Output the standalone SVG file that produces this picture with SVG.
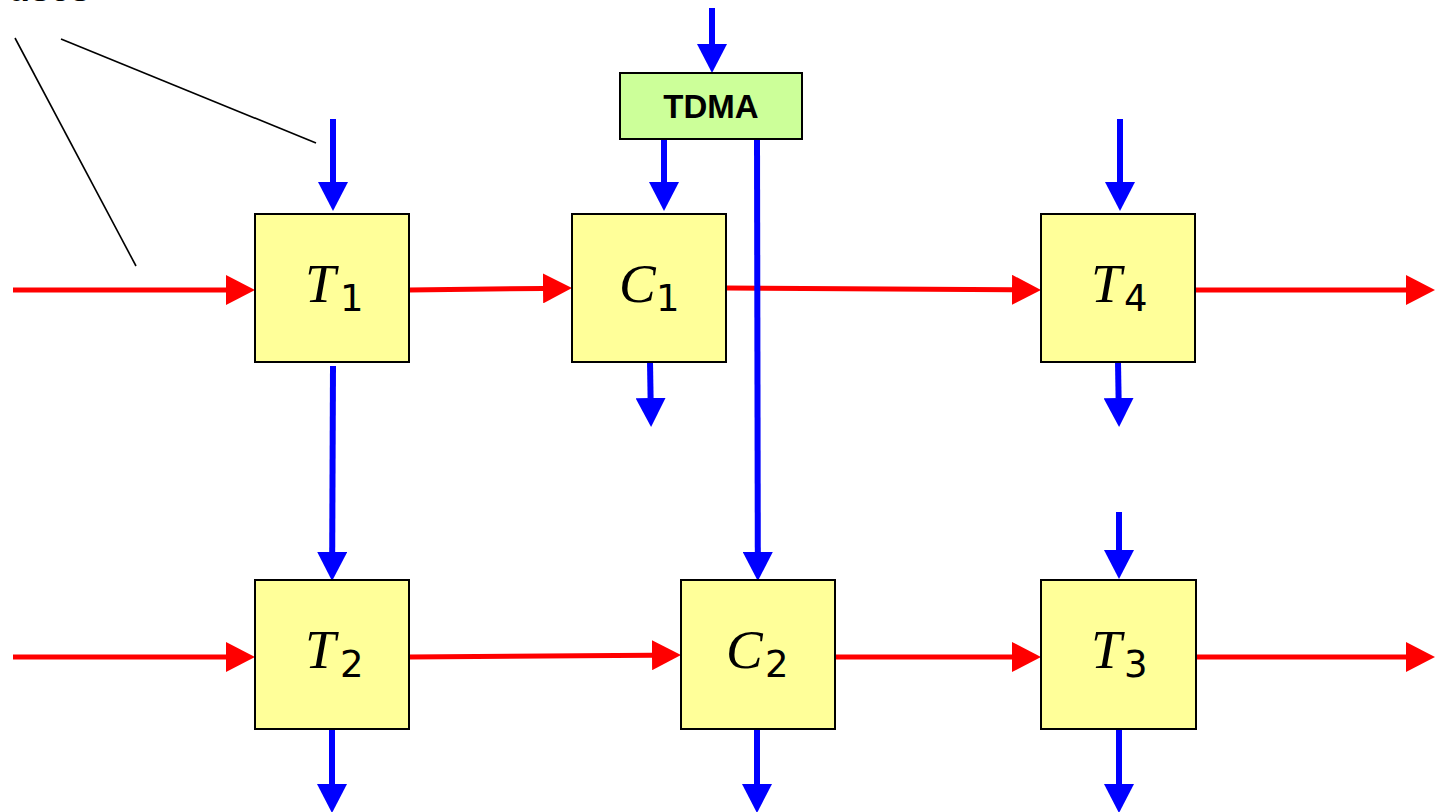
<svg xmlns="http://www.w3.org/2000/svg" width="1435" height="812" viewBox="0 0 1435 812">
<style>
.box{fill:#ffff99;stroke:#000;stroke-width:2}
.tdma{fill:#ccff99;stroke:#000;stroke-width:2}
.red{stroke:#ff0000;stroke-width:5;fill:none;marker-end:url(#ra)}
.blue{stroke:#0000ff;stroke-width:6;fill:none;marker-end:url(#ba)}
.call{stroke:#000;stroke-width:1.6;fill:none}
.v{font-family:"Liberation Serif",serif;font-style:italic;font-size:55px;fill:#000}
.s{font-family:"DejaVu Sans",sans-serif;font-size:37px;fill:#000}
.lbl{font-family:"Liberation Sans",Arial,sans-serif;font-weight:bold;font-size:33px;fill:#000;text-anchor:middle}
</style>
<defs>
<marker id="ra" markerUnits="userSpaceOnUse" markerWidth="29" markerHeight="30" viewBox="0 0 29 30" refX="0" refY="15" orient="auto"><path d="M0,0 L29,15 L0,30 z" fill="#ff0000"/></marker>
<marker id="ba" markerUnits="userSpaceOnUse" markerWidth="29" markerHeight="30" viewBox="0 0 29 30" refX="0" refY="15" orient="auto"><path d="M0,0 L29,15 L0,30 z" fill="#0000ff"/></marker>
</defs>
<rect width="1435" height="812" fill="#fff"/>
<text x="8" y="1" font-family="Liberation Sans,Arial,sans-serif" font-weight="bold" font-size="36">uses</text>
<g id="connectors">
<path class="call" d="M15,38 L136,266"/>
<path class="call" d="M61,39 L316,143"/>
<path class="red" d="M13,290 L226,290"/>
<path class="red" d="M409,290 L543,288.4"/>
<path class="red" d="M726,288 L1012,289.8"/>
<path class="red" d="M1195,290 L1406,290"/>
<path class="red" d="M13,657 L226,657"/>
<path class="red" d="M409,657 L652,655.2"/>
<path class="red" d="M835,657 L1012,657"/>
<path class="red" d="M1196,657 L1406,657"/>
<path class="blue" d="M333,119 L333,182"/>
<path class="blue" d="M712,8 L712,44"/>
<path class="blue" d="M664,139 L664,182"/>
<path class="blue" d="M757,139 L757.8,552"/>
<path class="blue" d="M1120,119 L1120,182"/>
<path class="blue" d="M650,362 L650.6,398"/>
<path class="blue" d="M1118,362 L1118.6,398"/>
<path class="blue" d="M333,366 L332.2,552"/>
<path class="blue" d="M1119,512 L1119,550"/>
<path class="blue" d="M332,729 L332,784"/>
<path class="blue" d="M757,729 L757,784"/>
<path class="blue" d="M1119,729 L1119,784"/>
</g>
<g id="TDMA"><rect class="tdma" x="620" y="73" width="182" height="66"/><text class="lbl" x="711" y="118">TDMA</text></g>
<g id="T1"><rect class="box" x="255" y="214" width="154" height="148"/><text class="v" x="305" y="302">T</text><text class="s" x="340" y="311">1</text></g>
<g id="C1"><rect class="box" x="572" y="214" width="154" height="148"/><text class="v" x="619" y="302">C</text><text class="s" x="656" y="311">1</text></g>
<g id="T4"><rect class="box" x="1041" y="214" width="154" height="148"/><text class="v" x="1091" y="302">T</text><text class="s" x="1124" y="311">4</text></g>
<g id="T2"><rect class="box" x="255" y="580" width="154" height="149"/><text class="v" x="305" y="668">T</text><text class="s" x="340" y="677">2</text></g>
<g id="C2"><rect class="box" x="681" y="580" width="154" height="149"/><text class="v" x="726" y="668">C</text><text class="s" x="765" y="677">2</text></g>
<g id="T3"><rect class="box" x="1041" y="580" width="155" height="149"/><text class="v" x="1091" y="668">T</text><text class="s" x="1124" y="677">3</text></g>
</svg>
